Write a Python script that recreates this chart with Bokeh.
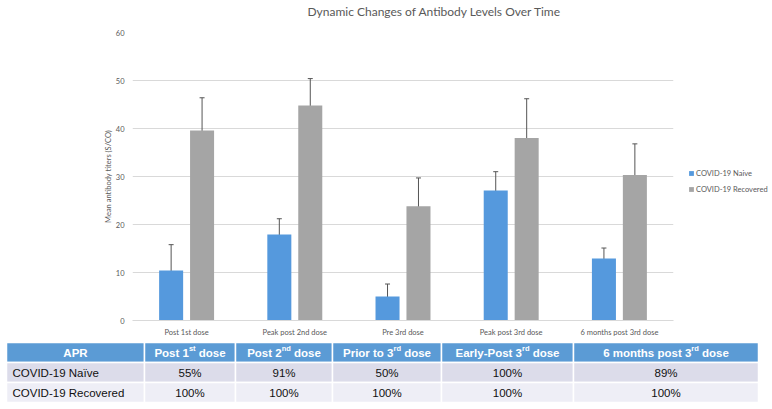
from bokeh.plotting import figure
from bokeh.models import (FactorRange, Range1d, ColumnDataSource, Whisker, TeeHead,
                          Legend, LegendItem, FixedTicker)
from bokeh.transform import dodge
from bokeh.core.properties import value
from bokeh.embed import file_html
from bokeh.resources import INLINE

# ---------------- data ----------------
chart_title = "Dynamic Changes of Antibody Levels Over Time"
categories = ["Post 1st dose", "Peak post 2nd dose", "Pre 3rd dose",
              "Peak post 3rd dose", "6 months post 3rd dose"]
series_names = ["COVID-19 Naive", "COVID-19 Recovered"]
naive_mean = [10.4, 17.9, 5.0, 27.1, 12.9]
naive_low = [5.1, 14.7, 2.4, 23.2, 10.6]
naive_high = [15.8, 21.2, 7.6, 31.0, 15.1]
recov_mean = [39.6, 44.8, 23.8, 38.0, 30.3]
recov_low = [33.0, 39.1, 17.9, 29.6, 23.7]
recov_high = [46.4, 50.4, 29.7, 46.2, 36.8]
y_ticks = [0, 10, 20, 30, 40, 50, 60]

# table: header text split as (before, superscript, after)
table_headers = [("APR", "", ""),
                 ("Post 1", "st", " dose"),
                 ("Post 2", "nd", " dose"),
                 ("Prior to 3", "rd", " dose"),
                 ("Early-Post 3", "rd", " dose"),
                 ("6 months post 3", "rd", " dose")]
row_labels = ["COVID-19 Naïve", "COVID-19 Recovered"]
apr_naive = ["55%", "91%", "50%", "100%", "89%"]
apr_recovered = ["100%", "100%", "100%", "100%", "100%"]

# ---------------- styles ----------------
BLUE = "#5599dd"
GRAY = "#a5a5a5"
TXT = "#595959"
GRID = "#d9d9d9"
FONT = "Lato"
W = 772


def blank_fig(h):
    f = figure(width=W, height=h, x_range=Range1d(0, W), y_range=Range1d(h, 0),
               x_axis_type=None, y_axis_type=None, output_backend="svg",
               toolbar_location=None, min_border=0, title=None)
    f.outline_line_color = None
    f.grid.visible = False
    f.background_fill_color = "white"
    f.border_fill_color = "white"
    return f


# ---------------- title strip ----------------
TTH = 20
tt = blank_fig(TTH)
tt.text(x=[307], y=[11], text=[chart_title], text_align="left", text_baseline="middle",
        text_font=value(FONT), text_font_size="12px", text_color=TXT)

# ---------------- chart ----------------
p = figure(frame_width=541, frame_height=288, title=None,
           x_range=FactorRange(*categories, range_padding=0),
           y_range=Range1d(0, 60), output_backend="svg", toolbar_location=None,
           min_border_left=132, min_border_right=99, min_border_top=12,
           min_border_bottom=20)
p.outline_line_color = None
p.background_fill_color = "white"
p.border_fill_color = "white"

src = ColumnDataSource(dict(cat=categories, nm=naive_mean, nl=naive_low, nh=naive_high,
                            rm=recov_mean, rl=recov_low, rh=recov_high))
off = 0.143
bw = 0.222
r1 = p.vbar(x=dodge("cat", -off, range=p.x_range), top="nm", width=bw, source=src,
            fill_color=BLUE, line_color=None)
r2 = p.vbar(x=dodge("cat", off, range=p.x_range), top="rm", width=bw, source=src,
            fill_color=GRAY, line_color=None)

for o, lo, hi in [(-off, "nl", "nh"), (off, "rl", "rh")]:
    w = Whisker(base=dodge("cat", o, range=p.x_range), lower=lo, upper=hi, source=src,
                line_color="#555555", line_width=1,
                upper_head=TeeHead(size=5, line_color="#555555", line_width=1),
                lower_head=TeeHead(size=5, line_color="#555555", line_width=1))
    p.add_layout(w)

p.yaxis.ticker = FixedTicker(ticks=y_ticks)
p.yaxis.axis_line_color = None
p.yaxis.major_tick_line_color = None
p.yaxis.minor_tick_line_color = None
p.yaxis.major_tick_out = 0
p.yaxis.minor_tick_out = 0
p.yaxis.major_label_standoff = 8
p.yaxis.major_label_text_font = FONT
p.yaxis.major_label_text_font_size = "7.5px"
p.yaxis.major_label_text_color = TXT
p.yaxis.axis_label = "Mean antibody titers (S/CO)"
p.yaxis.axis_label_text_font = FONT
p.yaxis.axis_label_text_font_size = "7.5px"
p.yaxis.axis_label_text_font_style = "normal"
p.yaxis.axis_label_text_color = TXT
p.yaxis.axis_label_standoff = 0

p.xaxis.axis_line_color = GRID
p.xaxis.major_tick_line_color = None
p.xaxis.minor_tick_line_color = None
p.xaxis.major_tick_out = 0
p.xaxis.minor_tick_out = 0
p.xaxis.major_label_standoff = 7
p.xaxis.major_label_text_font = FONT
p.xaxis.major_label_text_font_size = "7.5px"
p.xaxis.major_label_text_color = TXT
p.xgrid.grid_line_color = None
p.ygrid.grid_line_color = GRID

legend = Legend(items=[LegendItem(label=series_names[0], renderers=[r1]),
                       LegendItem(label=series_names[1], renderers=[r2])],
                location=(15, 126), padding=0, margin=0, spacing=6,
                glyph_width=6, glyph_height=6, label_height=10, label_standoff=2,
                label_text_font=FONT, label_text_font_size="7.5px",
                label_text_color=TXT, border_line_alpha=0, background_fill_alpha=0)
p.add_layout(legend, "right")

# ---------------- table ----------------
TH = 69
t = blank_fig(TH)

col_edges = [6, 144, 235, 332, 441, 573, 758]
row_edges = [2, 22, 42, 62]
row_fills = ["#5b9bd5", "#dcdcea", "#eeeef6"]

lefts, rights, tops, bottoms, fills = [], [], [], [], []
for r in range(3):
    for c in range(6):
        lefts.append(col_edges[c]); rights.append(col_edges[c + 1])
        tops.append(row_edges[r]); bottoms.append(row_edges[r + 1])
        fills.append(row_fills[r])
t.quad(left=lefts, right=rights, top=tops, bottom=bottoms, fill_color=fills,
       line_color="white", line_width=1.5)

# Arial-bold-compatible advance widths (per 1000 em) for centring header pieces
BW = {'P': 667, 'o': 611, 's': 556, 't': 333, ' ': 278, '1': 556, '2': 556, '3': 556,
      '6': 556, 'd': 611, 'e': 556, 'n': 611, 'r': 389, 'i': 278, 'a': 556, 'E': 667,
      'l': 278, 'y': 556, '-': 333, 'm': 889, 'h': 611, 'A': 722, 'R': 722, 'p': 611}


def tw(s, size):
    return sum(BW.get(ch, 556) for ch in s) * size / 1000.0


HS, SS = 11.5, 7.5
centers = [(col_edges[i] + col_edges[i + 1]) / 2 for i in range(6)]
hy = (row_edges[0] + row_edges[1]) / 2
for i, (a, sup, b) in enumerate(table_headers):
    total = tw(a, HS) + tw(sup, SS) + tw(b, HS)
    x0 = -total / 2
    pieces = [(a, HS, 0, x0), (sup, SS, -4, x0 + tw(a, HS)),
              (b, HS, 0, x0 + tw(a, HS) + tw(sup, SS))]
    for txt, size, yo, xo in pieces:
        if not txt:
            continue
        lead = len(txt) - len(txt.lstrip(" "))
        xo = xo + tw(" " * lead, size)
        t.text(x=[centers[i]], y=[hy], text=[txt.lstrip(" ")], x_offset=xo, y_offset=yo,
               text_align="left", text_baseline="middle",
               text_font=value("Liberation Sans"), text_font_style="bold",
               text_font_size=f"{size}px", text_color="white")

for r, (lab, vals) in enumerate(zip(row_labels, [apr_naive, apr_recovered])):
    yc = (row_edges[r + 1] + row_edges[r + 2]) / 2
    t.text(x=[col_edges[0] + 6], y=[yc], text=[lab], text_align="left",
           text_baseline="middle", text_font=value("Liberation Sans"),
           text_font_size="11.5px", text_color="#111111")
    t.text(x=centers[1:], y=[yc] * 5, text=vals, text_align="center",
           text_baseline="middle", text_font=value("Liberation Sans"),
           text_font_size="11.5px", text_color="#111111")

# independent roots stacked: title strip, chart, table
open("out.html", "w").write(file_html([tt, p, t], INLINE))
